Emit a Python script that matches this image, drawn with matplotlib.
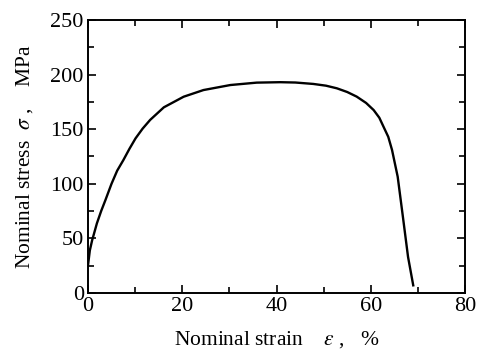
import matplotlib.pyplot as plt
from matplotlib.ticker import MultipleLocator

# strain (%) and nominal stress (MPa)
strain = [0, 0.4, 0.9, 1.2, 1.9, 2.8, 3.7, 5.0, 6.2, 7.5, 8.8, 10.1, 11.6, 13.2, 16.1,
          20.3, 24.5, 30.2, 35.8, 40.8, 44, 47.8, 50.5, 52.8, 55, 57, 59, 60.6, 61.8,
          62.7, 63.7, 64.5, 65.7, 66.8, 67.9, 69]
stress = [25, 39, 48.5, 53, 63.8, 75, 85, 100, 112, 121.6, 132, 141.6, 150.5, 158.5, 170,
          179.7, 185.8, 190.4, 192.6, 193, 192.7, 191.4, 189.8, 187.4, 184, 179.8, 174,
          167.5, 160.5, 152.2, 143, 131, 106.5, 70, 33, 7]

plt.rcParams['font.family'] = ['Liberation Serif', 'DejaVu Serif']
plt.rcParams['mathtext.fontset'] = 'stix'

fig = plt.figure(figsize=(4.78, 3.56), dpi=100)
ax = fig.add_axes([0.184, 0.177, 0.789, 0.767])
ax.plot(strain, stress, color='black', lw=1.7)

ax.set_xlim(0, 80)
ax.set_ylim(0, 250)
ax.xaxis.set_major_locator(MultipleLocator(20))
ax.xaxis.set_minor_locator(MultipleLocator(10))
ax.yaxis.set_major_locator(MultipleLocator(50))
ax.yaxis.set_minor_locator(MultipleLocator(25))
ax.tick_params(which='both', direction='in', top=True, right=True, labelsize=16, width=1.2)
ax.tick_params(which='major', length=6, pad=3)
ax.tick_params(which='minor', length=4)
for s in ax.spines.values():
    s.set_linewidth(1.4)

ax.set_xlabel(r'Nominal strain    $\varepsilon$ ,   %', fontsize=15.5, labelpad=9)
ax.set_ylabel(r'Nominal stress  $\sigma$ ,    MPa', fontsize=15.5, labelpad=11)

fig.savefig('out.png', dpi=100)
